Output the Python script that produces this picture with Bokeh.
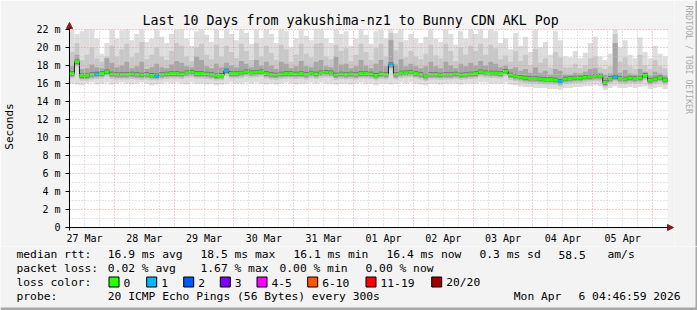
import math
from bokeh.plotting import figure
from bokeh.layouts import column, row
from bokeh.models import ColumnDataSource, FixedTicker, Arrow, NormalHead, Range1d, Title
from bokeh.core.properties import value
from bokeh.embed import file_html
from bokeh.resources import INLINE

# ---------------- data (milliseconds) ----------------
# 2-hour bins starting Mar 27 06:00 (x axis = hours since Mar 27 00:00)
median = [
    17.1, 18.4, 16.85, 16.85, 17.0, 17.05, 17.1, 17.3, 17.05, 17.0,
    17.0, 17.0, 17.05, 17.0, 16.95, 17.0, 16.9, 16.87, 17.0, 17.05,
    17.1, 17.1, 17.05, 17.2, 17.25, 17.1, 17.1, 17.05, 17.0, 16.85,
    16.9, 17.4, 17.1, 17.1, 17.15, 17.3, 17.2, 17.25, 17.3, 17.1,
    17.0, 16.95, 17.05, 17.1, 17.1, 17.05, 17.1, 17.0, 17.15, 17.05,
    17.2, 17.25, 17.2, 16.95, 17.05, 17.0, 17.05, 17.0, 17.1, 17.1,
    17.05, 16.9, 17.05, 17.0, 18.1, 17.0, 17.15, 17.2, 17.25, 17.1,
    17.0, 16.8, 17.0, 17.0, 16.95, 17.0, 17.0, 17.05, 16.95, 17.0,
    17.05, 17.1, 17.3, 17.2, 17.15, 17.15, 17.1, 17.35, 16.95, 16.8,
    16.7, 16.6, 16.55, 16.55, 16.5, 16.45, 16.45, 16.4, 16.25, 16.5,
    16.55, 16.6, 16.6, 16.7, 16.75, 16.8, 16.8, 16.1, 16.55, 16.75,
    16.55, 16.5, 16.6, 16.55, 16.6, 16.9, 16.35, 16.5, 16.65, 16.4,
]
loss = [
    0, 0, 0, 0, 0, 1, 0, 0, 0, 0,
    0, 0, 0, 0, 0, 0, 0, 1, 0, 0,
    0, 0, 0, 0, 0, 0, 0, 0, 0, 0,
    0, 1, 0, 0, 0, 0, 0, 0, 0, 0,
    0, 0, 0, 0, 0, 0, 0, 0, 0, 0,
    0, 0, 0, 0, 0, 0, 0, 0, 0, 0,
    0, 0, 0, 0, 1, 0, 0, 0, 0, 0,
    0, 0, 0, 0, 0, 0, 0, 0, 0, 0,
    0, 0, 0, 0, 0, 0, 0, 0, 0, 0,
    0, 0, 0, 0, 0, 0, 0, 0, 1, 0,
    0, 0, 0, 0, 0, 0, 0, 0, 0, 1,
    0, 0, 0, 0, 0, 0, 0, 0, 0, 0,
]
smoke_max = [
    22.0, 21.5, 21.8, 22.0, 22.0, 21.0, 19.3, 20.5, 22.0, 21.0,
    21.9, 22.0, 20.8, 21.5, 22.0, 20.6, 21.0, 22.0, 21.2, 20.5,
    21.5, 22.0, 22.0, 21.0, 20.2, 21.8, 22.0, 21.4, 20.6, 22.0,
    21.0, 22.0, 21.5, 20.8, 22.0, 21.6, 20.4, 22.0, 21.0, 22.0,
    21.5, 20.5, 22.0, 21.8, 20.0, 21.0, 22.0, 21.3, 20.8, 22.0,
    22.0, 21.0, 20.5, 22.0, 21.5, 21.8, 20.2, 21.0, 22.0, 21.4,
    20.4, 21.8, 22.0, 21.0, 22.0, 21.6, 22.0, 20.8, 21.5, 21.0,
    20.5, 21.2, 22.0, 21.0, 20.6, 22.0, 21.5, 20.3, 21.8, 21.0,
    22.0, 21.5, 22.0, 21.0, 22.0, 21.8, 20.5, 21.0, 19.8, 21.6,
    20.2, 21.2, 19.5, 22.0, 20.0, 20.6, 19.2, 21.8, 20.8, 19.0,
    18.9, 19.6, 18.8, 19.4, 20.5, 21.2, 19.0, 18.6, 19.3, 22.0,
    20.0, 20.8, 19.2, 18.8, 21.1, 19.5, 18.8, 20.2, 19.3, 19.0,
]
smoke_p90 = [
    19.5, 20.5, 18.6, 19.2, 20.0, 18.8, 18.4, 19.0, 20.2, 19.0,
    19.8, 20.4, 18.9, 19.4, 20.6, 18.7, 19.2, 20.0, 19.0, 18.6,
    19.6, 20.5, 20.2, 19.0, 18.5, 20.0, 20.4, 19.2, 18.7, 20.3,
    19.0, 20.2, 19.5, 18.8, 20.4, 19.6, 18.6, 20.5, 19.0, 20.2,
    19.4, 18.6, 20.3, 19.8, 18.4, 19.2, 20.4, 19.3, 18.9, 20.4,
    20.5, 19.0, 18.7, 20.3, 19.6, 19.9, 18.5, 19.2, 20.4, 19.5,
    18.6, 19.9, 20.4, 19.0, 21.6, 19.7, 20.6, 18.9, 19.6, 19.0,
    18.7, 19.3, 20.3, 19.1, 18.8, 20.4, 19.6, 18.5, 20.0, 19.2,
    20.2, 19.6, 20.4, 19.2, 20.3, 19.9, 18.7, 19.1, 18.4, 19.6,
    18.5, 19.2, 18.0, 19.8, 18.3, 18.8, 17.8, 19.5, 18.9, 17.8,
    17.8, 18.2, 17.7, 18.0, 18.8, 19.0, 17.8, 17.6, 17.9, 21.5,
    18.4, 18.9, 17.9, 17.6, 19.2, 18.0, 17.6, 18.6, 17.9, 17.7,
]
smoke_p75 = [
    17.9, 19.2, 17.6, 17.7, 18.1, 17.8, 17.7, 18.8, 18.3, 17.8,
    18.0, 18.4, 17.7, 17.9, 18.4, 17.6, 17.8, 18.2, 17.8, 17.7,
    18.1, 18.5, 18.3, 17.9, 17.8, 19.0, 18.6, 17.9, 17.7, 18.2,
    17.8, 18.3, 18.0, 17.8, 18.5, 18.2, 17.8, 18.6, 18.0, 18.4,
    18.0, 17.6, 18.4, 18.2, 17.7, 17.9, 18.5, 17.9, 17.8, 18.4,
    18.6, 17.9, 17.8, 19.0, 18.1, 18.2, 17.7, 17.9, 18.6, 18.0,
    17.7, 18.2, 18.6, 17.9, 20.8, 18.1, 18.7, 17.9, 18.2, 17.9,
    17.7, 17.9, 18.4, 17.9, 17.7, 18.4, 18.0, 17.7, 18.2, 17.9,
    18.3, 18.0, 18.5, 18.0, 18.4, 18.2, 17.8, 18.0, 17.6, 17.8,
    17.4, 17.6, 17.2, 17.8, 17.2, 17.4, 17.0, 17.6, 17.4, 17.0,
    17.0, 17.2, 17.1, 17.3, 17.6, 17.7, 17.2, 17.0, 17.1, 20.5,
    17.2, 17.5, 17.1, 17.0, 17.6, 17.3, 16.9, 17.3, 17.1, 16.9,
]
smoke_min = [
    16.0, 15.9, 15.8, 16.0, 16.1, 15.9, 16.0, 16.1, 15.9, 16.0,
    16.1, 16.0, 15.9, 16.0, 16.1, 16.0, 15.8, 15.9, 16.0, 16.1,
    16.0, 16.1, 16.0, 15.9, 16.1, 16.0, 16.0, 15.9, 16.0, 15.8,
    15.9, 16.0, 16.1, 16.0, 16.0, 16.1, 16.0, 16.1, 16.0, 15.9,
    16.0, 15.9, 16.0, 16.1, 16.0, 15.9, 16.0, 16.0, 16.1, 16.0,
    16.1, 16.0, 16.0, 15.9, 16.0, 16.0, 15.9, 16.0, 16.1, 16.0,
    16.0, 15.8, 16.0, 16.0, 15.9, 16.0, 16.1, 16.0, 16.1, 16.0,
    15.9, 15.8, 16.0, 16.0, 15.9, 16.0, 16.0, 16.0, 15.9, 16.0,
    16.0, 16.0, 16.1, 16.1, 16.0, 16.0, 16.0, 16.1, 15.9, 15.8,
    15.7, 15.6, 15.6, 15.5, 15.5, 15.5, 15.4, 15.4, 15.3, 15.5,
    15.5, 15.6, 15.6, 15.7, 15.7, 15.8, 15.7, 15.3, 15.5, 15.7,
    15.5, 15.5, 15.6, 15.5, 15.6, 15.7, 15.4, 15.5, 15.6, 15.4,
]

y_ticks = [0, 2, 4, 6, 8, 10, 12, 14, 16, 18, 20, 22]
y_tick_labels = ["0", "2 m", "4 m", "6 m", "8 m", "10 m", "12 m", "14 m", "16 m", "18 m", "20 m", "22 m"]
x_label_hours = [12, 36, 60, 84, 108, 132, 156, 180, 204, 228]
x_tick_labels = ["27 Mar", "28 Mar", "29 Mar", "30 Mar", "31 Mar", "01 Apr", "02 Apr", "03 Apr", "04 Apr", "05 Apr"]

loss_labels = ["0", "1", "2", "3", "4-5", "6-10", "11-19", "20/20"]
loss_colors = ["#26ff00", "#00b8ff", "#0059ff", "#7e00ff", "#ff00ff", "#ff5500", "#ff0000", "#a10000"]

rtt_stats = ["16.9 ms avg", "18.5 ms max", "16.1 ms min", "16.4 ms now", "0.3 ms sd", "58.5", "am/s"]
loss_stats = ["0.02 % avg", "1.67 % max", "0.00 % min", "0.00 % now"]

TITLE = "Last 10 Days from yakushima-nz1 to Bunny CDN AKL Pop"
PROBE = "20 ICMP Echo Pings (56 Bytes) every 300s"
STAMP_DAY = "Mon Apr"
STAMP_TIME = "6 04:46:59 2026"
CREDIT = "RRDTOOL / TOBI OETIKER"

# ---------------- layout constants ----------------
START, END, STEP = 6, 246, 2
PXH = 2.5          # px per hour
PXM = 199 / 22.0   # px per ms
FONT = "DejaVu Sans Mono"
BG = "#f3f3f3"
EDGE = "#a8a8a8"
AX_RED = "#8b1a1a"
MAIN_W, MAIN_H = 674, 246
FRAME_L, FRAME_B = 63, 232


def no_align(fig):
    if "frame_align" in fig.properties():
        fig.frame_align = False


def blank(w, h, xr, yr):
    f = figure(width=w, height=h, x_range=xr, y_range=yr,
               output_backend="svg", toolbar_location=None,
               min_border_left=0, min_border_right=0, min_border_top=0, min_border_bottom=0,
               x_axis_type=None, y_axis_type=None,
               background_fill_color=BG, border_fill_color=BG)
    f.outline_line_color = None
    f.xgrid.visible = False
    f.ygrid.visible = False
    no_align(f)
    return f


n = len(median)
left = [START + STEP * i for i in range(n)]
right = [l + STEP for l in left]
src = ColumnDataSource(dict(
    left=left, right=right, med=median, mn=smoke_min, mx=smoke_max, p90=smoke_p90, p75=smoke_p75,
    l2=[m - 0.55 for m in median], l3=[m - 0.35 for m in median],
    c0=[m - 0.2 for m in median], c1=[m + 0.25 for m in median],
    col=[loss_colors[k] for k in loss],
))

main = figure(width=MAIN_W, height=MAIN_H,
              x_range=Range1d(START - 4 / PXH, END + 7 / PXH),
              y_range=Range1d(-4 / PXM, 22 + 8 / PXM),
              output_backend="svg", toolbar_location=None,
              min_border_left=FRAME_L, min_border_right=0, min_border_top=21,
              min_border_bottom=MAIN_H - FRAME_B,
              background_fill_color=BG, border_fill_color=BG)
main.outline_line_color = None
no_align(main)

# white canvas of the graph area
main.quad(left=[START], right=[END], bottom=[0], top=[22], fill_color="white", line_color=None, level="underlay")

# smoke
for bot, top, c in (("mn", "mx", "#dddddd"), ("l2", "p90", "#c8c8c8"),
                    ("l3", "p75", "#a6a6a6"), ("c0", "c1", "#6e6e6e")):
    main.quad(left="left", right="right", bottom=bot, top=top, source=src,
              fill_color=c, line_color=None, level="underlay")

# median: dark connector + loss-coloured segments
main.step(x=left + [END], y=median + [median[-1]], mode="after", line_color="#202020", line_width=1)
main.segment(x0="left", x1="right", y0="med", y1="med", source=src, line_color="col", line_width=3)

# grids
xg, yg = main.xgrid[0], main.ygrid[0]
xg.ticker = FixedTicker(ticks=[24 * k for k in range(1, 11)],
                        minor_ticks=[6 * k for k in range(2, 41) if k % 4 != 0])
yg.ticker = FixedTicker(ticks=y_ticks, minor_ticks=list(range(1, 22, 2)))
if "cross_bounds" in xg.properties():
    xg.cross_bounds = (0, 22)
    yg.cross_bounds = (START, END)
for g in (xg, yg):
    g.level = "glyph"
    g.grid_line_color = "#e29a9a"
    g.grid_line_dash = "1 2"
    g.minor_grid_line_color = "#c9c9c9"
    g.minor_grid_line_dash = "1 2"

# axes (lines are drawn by the arrows below)
xa, ya = main.xaxis[0], main.yaxis[0]
ya.ticker = FixedTicker(ticks=y_ticks, minor_ticks=[])
ya.major_label_overrides = {t: s for t, s in zip(y_ticks, y_tick_labels)}
xa.ticker = FixedTicker(ticks=x_label_hours, minor_ticks=[])
xa.major_label_overrides = {t: s for t, s in zip(x_label_hours, x_tick_labels)}
for ax in (xa, ya):
    ax.axis_line_color = None
    ax.major_label_text_font = FONT
    ax.major_label_text_font_size = "10px"
    ax.major_label_text_color = "black"
    ax.minor_tick_line_color = None
ya.major_tick_out = 0
ya.major_tick_in = 4
ya.major_tick_line_color = "black"
ya.major_label_standoff = 5
ya.axis_label = "Seconds"
ya.axis_label_text_font = FONT
ya.axis_label_text_font_size = "11px"
ya.axis_label_text_font_style = "normal"
ya.axis_label_text_color = "black"
ya.axis_label_standoff = 17
xa.major_tick_out = 0
xa.major_tick_in = 0
xa.major_tick_line_color = None
xa.major_label_standoff = 1

# axis lines with arrow heads
main.add_layout(Arrow(end=NormalHead(size=6, fill_color=AX_RED, line_color=AX_RED),
                      x_start=START - 4 / PXH, y_start=0, x_end=END + 6 / PXH, y_end=0, line_color="black"))
main.add_layout(Arrow(end=NormalHead(size=6, fill_color=AX_RED, line_color=AX_RED),
                      x_start=START, y_start=-3 / PXM, x_end=START, y_end=22 + 7 / PXM, line_color="black"))

# title
main.title = Title(text=TITLE, align="left", offset=140 - FRAME_L, vertical_align="bottom", standoff=-13,
                   text_font=FONT, text_font_size="13.3px", text_font_style="normal", text_color="black")

# ---------------- credit strip (right) ----------------
cred = blank(697 - MAIN_W, MAIN_H, Range1d(MAIN_W, 697), Range1d(MAIN_H, 0))
cred.text(x=[688], y=[5], text=[CREDIT], angle=-math.pi / 2, text_align="left", text_baseline="middle",
          text_font=value(FONT), text_font_size=value("8.2px"), text_color="#aaaaaa")
cred.quad(left=[695], right=[697], top=[0], bottom=[MAIN_H], fill_color=EDGE, line_color=None)

# ---------------- legend strip (bottom) ----------------
FOOT_H = 310 - MAIN_H
foot = blank(697, FOOT_H, Range1d(0, 697), Range1d(FOOT_H, 0))

rows = [y - MAIN_H for y in (254.3, 268.3, 282.3, 296.0)]
tx, ty, tt = [], [], []


def add(s, x, y):
    tx.append(x)
    ty.append(y)
    tt.append(s)


add("median rtt:", 16, rows[0])
for s, x in zip(rtt_stats, [107.3, 200, 293, 386, 479, 558, 607]):
    add(s, x, rows[0])
add("packet loss:", 16, rows[1])
for s, x in zip(loss_stats, [107.3, 200, 279, 365]):
    add(s, x, rows[1])
add("loss color:", 16, rows[2])
box_x = [108, 145.7, 182.7, 219.3, 256, 306.7, 365, 430.7]
for lab, x in zip(loss_labels, box_x):
    add(lab, x + 15, rows[2])
add("probe:", 16, rows[3])
add(PROBE, 107.3, rows[3])
add(STAMP_DAY, 513.3, rows[3])

foot.text(x=tx, y=ty, text=tt, text_font=value(FONT), text_font_size=value("11.3px"),
          text_baseline="middle", text_align="left", text_color="black")
foot.text(x=[680], y=[rows[3]], text=[STAMP_TIME], text_font=value(FONT), text_font_size=value("11.3px"),
          text_baseline="middle", text_align="right", text_color="black")
foot.quad(left=[x + 0.5 for x in box_x], right=[x + 10.5 for x in box_x],
          top=[276.5 - MAIN_H] * len(box_x), bottom=[286.5 - MAIN_H] * len(box_x),
          fill_color=loss_colors, line_color="black", line_width=1)
# shaded bottom / right edges of the image frame
foot.quad(left=[0, 695], right=[697, 697], top=[FOOT_H - 3, 0], bottom=[FOOT_H, FOOT_H],
          fill_color=EDGE, line_color=None)

layout = column(row(main, cred, spacing=0), foot, spacing=0)
open("out.html", "w").write(file_html(layout, INLINE))
